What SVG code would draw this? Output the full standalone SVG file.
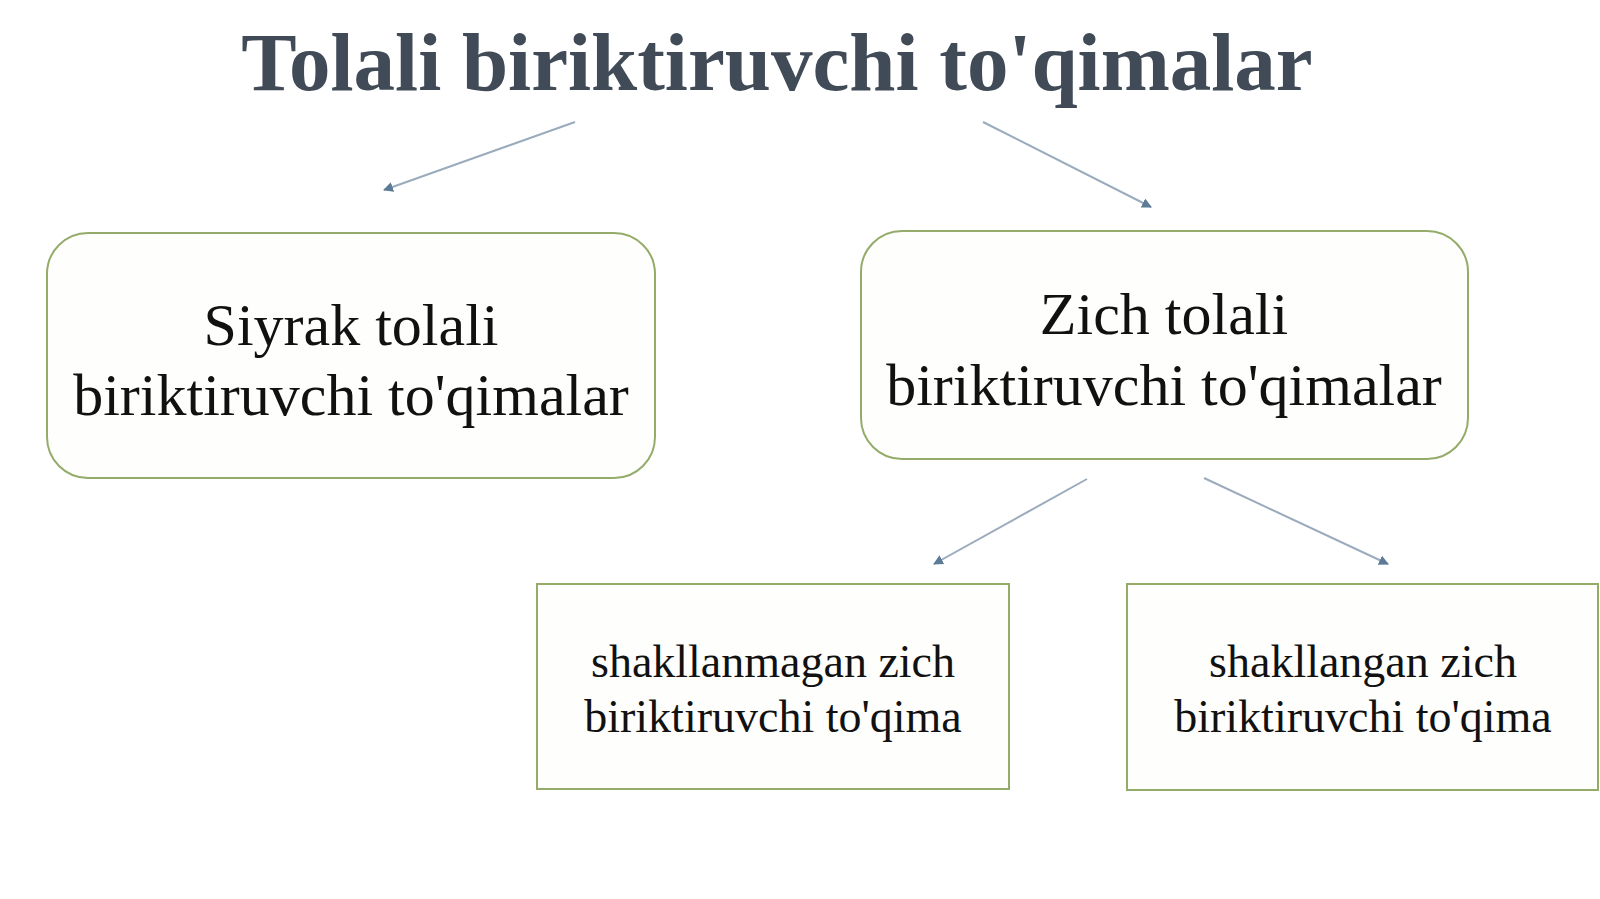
<svg xmlns="http://www.w3.org/2000/svg" width="1600" height="899" viewBox="0 0 1600 899">
<style>
.title{font-family:"Liberation Serif",serif;font-weight:bold;font-size:83px;fill:#414b57;text-anchor:middle}
.big{font-family:"Liberation Serif",serif;font-size:60px;fill:#111;text-anchor:middle}
.small{font-family:"Liberation Serif",serif;font-size:46px;fill:#111;text-anchor:middle}
.box{fill:#fefefc;stroke:#94ab6a;stroke-width:2}
.conn line{stroke:#9aabbd;stroke-width:2;marker-end:url(#ah)}
</style>
<defs>
<marker id="ah" viewBox="0 0 10 10" refX="9" refY="5" markerWidth="5" markerHeight="5" orient="auto" markerUnits="strokeWidth">
<path d="M0,0 L10,5 L0,10 z" fill="#5d7a96"/>
</marker>
</defs>
<rect width="1600" height="899" fill="#ffffff"/>
<g id="title"><text class="title" x="777" y="90">Tolali biriktiruvchi to'qimalar</text></g>
<g class="conn" id="connectors">
<line x1="575" y1="122" x2="384" y2="190"/>
<line x1="983" y1="122" x2="1151" y2="207"/>
<line x1="1087" y1="479" x2="934" y2="564"/>
<line x1="1204" y1="478" x2="1388" y2="564"/>
</g>
<g id="node-siyrak">
<rect class="box" x="47" y="233" width="608" height="245" rx="41"/>
<text class="big" x="351" y="345">Siyrak tolali</text>
<text class="big" x="351" y="415">biriktiruvchi to'qimalar</text>
</g>
<g id="node-zich">
<rect class="box" x="861" y="231" width="607" height="228" rx="41"/>
<text class="big" x="1164" y="334">Zich tolali</text>
<text class="big" x="1164" y="405">biriktiruvchi to'qimalar</text>
</g>
<g id="node-shakllanmagan">
<rect class="box" x="537" y="584" width="472" height="205"/>
<text class="small" x="773" y="677">shakllanmagan zich</text>
<text class="small" x="773" y="732">biriktiruvchi to'qima</text>
</g>
<g id="node-shakllangan">
<rect class="box" x="1127" y="584" width="471" height="206"/>
<text class="small" x="1363" y="677">shakllangan zich</text>
<text class="small" x="1363" y="732">biriktiruvchi to'qima</text>
</g>
</svg>
